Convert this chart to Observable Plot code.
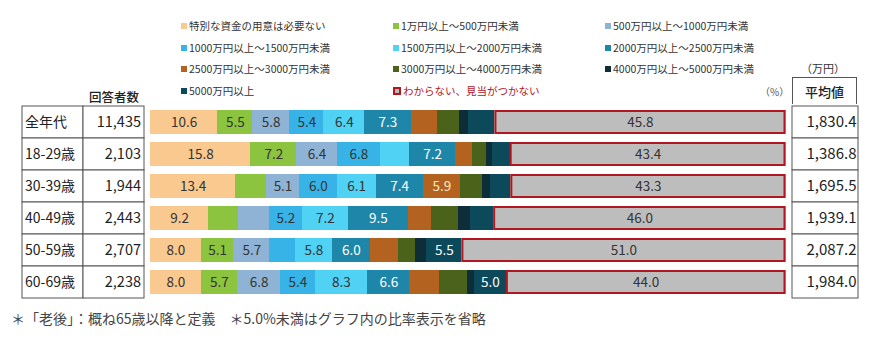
<!DOCTYPE html>
<html><head><meta charset="utf-8">
<script src="https://cdn.jsdelivr.net/npm/d3@7"></script>
<script src="https://cdn.jsdelivr.net/npm/@observablehq/plot@0.6"></script>
<style>
body{margin:0;background:#fff;font-family:"Noto Sans CJK JP","Noto Sans",sans-serif;color:#333;}
#wrap{position:relative;width:870px;height:342px;overflow:hidden;background:#fff;}
.abs{position:absolute;}
.leg{position:absolute;font-size:10.5px;line-height:12px;white-space:nowrap;display:flex;align-items:center;}
.sw{display:inline-block;width:6px;height:6px;margin-right:2px;}
</style></head>
<body><div id="wrap"></div>
<script>
// ---- data ----
const ages = ["全年代","18-29歳","30-39歳","40-49歳","50-59歳","60-69歳"];
const respondents = [11435, 2103, 1944, 2443, 2707, 2238];
const averages = [1830.4, 1386.8, 1695.5, 1939.1, 2087.2, 1984.0];
const categories = ["特別な資金の用意は必要ない","1万円以上～500万円未満","500万円以上～1000万円未満",
  "1000万円以上～1500万円未満","1500万円以上～2000万円未満","2000万円以上～2500万円未満",
  "2500万円以上～3000万円未満","3000万円以上～4000万円未満","4000万円以上～5000万円未満",
  "5000万円以上","わからない、見当がつかない"];
const colors = ["#f9c98f","#8cc43f","#8fb3d5","#37b3e8","#4fd2f3","#1e87a9",
  "#b3621f","#4a6219","#0d2e38","#0c495a","#bdbdbd"];
const labelColors = ["#333","#333","#333","#333","#333","#fff","#fbe8c4","#fff","#fff","#fff","#333"];
const noNeed      = [10.6, 15.8, 13.4, 9.2, 8.0, 8.0];
const v1to500     = [5.5, 7.2, 4.9, 4.7, 5.1, 5.7];
const v500to1000  = [5.8, 6.4, 5.1, 4.8, 5.7, 6.8];
const v1000to1500 = [5.4, 6.8, 6.0, 5.2, 4.0, 5.4];
const v1500to2000 = [6.4, 4.6, 6.1, 7.2, 5.8, 8.3];
const v2000to2500 = [7.3, 7.2, 7.4, 9.5, 6.0, 6.6];
const v2500to3000 = [4.2, 2.6, 5.9, 3.6, 4.4, 4.6];
const v3000to4000 = [3.5, 2.2, 3.4, 4.3, 2.7, 4.5];
const v4000to5000 = [1.4, 1.0, 1.3, 1.8, 1.8, 1.1];
const v5000plus   = [4.1, 2.8, 3.2, 3.7, 5.5, 5.0];
const unknown     = [45.8, 43.4, 43.3, 46.0, 51.0, 44.0];
const series = [noNeed,v1to500,v500to1000,v1000to1500,v1500to2000,v2000to2500,
  v2500to3000,v3000to4000,v4000to5000,v5000plus,unknown];
const footnote = "＊「老後」：概ね65歳以降と定義　＊5.0%未満はグラフ内の比率表示を省略";

// ---- build table ----
const segs = [];
ages.forEach((age, i) => {
  let acc = 0;
  series.forEach((s, k) => {
    const v = s[i];
    segs.push({age, cat: categories[k], k, value: v, x1: acc, x2: acc + v});
    acc += v;
  });
});

const wrap = document.getElementById("wrap");
function place(el, left, top){ const d=document.createElement("div"); d.className="abs"; d.style.left=left+"px"; d.style.top=top+"px"; d.appendChild(el); wrap.appendChild(d); return d; }

const font = '"Noto Sans CJK JP","Noto Sans",sans-serif';

// main bars
const main = Plot.plot({
  width: 640, height: 342,
  marginLeft: 0, marginRight: 4.5, marginTop: 105, marginBottom: 42.6,
  style: {background: "transparent", fontFamily: font},
  x: {domain: [0, 100], axis: null},
  y: {domain: ages, axis: null, paddingInner: 0.26, paddingOuter: 0.13},
  color: {domain: categories, range: colors},
  marks: [
    Plot.barX(segs, {y: "age", x1: "x1", x2: "x2", fill: "cat", inset: 0, shapeRendering: "crispEdges"}),
    Plot.barX(segs.filter(d => d.k === 10), {y: "age", x1: "x1", x2: "x2", fill: "cat", stroke: "#b3161e", strokeWidth: 2, inset: 1}),
    Plot.text(segs.filter(d => d.value >= 5), {y: "age", x: d => (d.x1 + d.x2) / 2,
      text: d => d.value.toFixed(1), fill: d => labelColors[d.k], fontSize: 13.5})
  ]
});
place(main, 150, 0);

// left table
const leftRows = ages.map((a, i) => ({age: a, n: respondents[i]}));
const left = Plot.plot({
  width: 150, height: 342,
  marginLeft: 21, marginRight: 6, marginTop: 103.3, marginBottom: 42,
  style: {background: "transparent", fontFamily: font},
  x: {domain: ["label", "count"], axis: null, padding: 0},
  y: {domain: ages, axis: null, padding: 0},
  marks: [
    Plot.cell(leftRows, {x: () => "label", y: "age", fill: "#fff", stroke: "#555", inset: 0}),
    Plot.cell(leftRows, {x: () => "count", y: "age", fill: "#fff", stroke: "#555", inset: 0}),
    Plot.text(leftRows, {x: () => "label", y: "age", text: "age", textAnchor: "start", dx: -28, fontSize: 14, fill: "#222"}),
    Plot.text(leftRows, {x: () => "count", y: "age", text: d => d3.format(",")(d.n), textAnchor: "end", dx: 27, fontSize: 14.5, fill: "#222"}),
    Plot.text(["回答者数"], {x: () => "count", frameAnchor: "top", dy: -11, fontSize: 12.5, fontWeight: 500, fill: "#222"})
  ]
});
place(left, 0, 0);

// right table
const rightRows = ages.map((a, i) => ({age: a, avg: averages[i]}));
const right = Plot.plot({
  width: 80, height: 342,
  marginLeft: 2, marginRight: 12, marginTop: 104, marginBottom: 42,
  style: {background: "transparent", fontFamily: font},
  x: {domain: ["avg"], axis: null, padding: 0},
  y: {domain: ages, axis: null, padding: 0},
  marks: [
    Plot.cell(rightRows, {x: () => "avg", y: "age", fill: "#fff", stroke: "#555", inset: 0}),
    Plot.text(rightRows, {x: () => "avg", y: "age", text: d => d3.format(",.1f")(d.avg), textAnchor: "end", dx: 31, fontSize: 15, fill: "#222"})
  ]
});
place(right, 790, 0);

// header box of right table
const hb = document.createElement("div");
hb.style.cssText = "width:65px;height:27px;border:1px solid #555;border-bottom:none;box-sizing:border-box;background:#fff;font-size:13px;font-weight:500;display:flex;align-items:center;justify-content:center;color:#222;";
hb.textContent = "平均値";
place(hb, 792, 77);
const unit = document.createElement("div");
unit.style.cssText = "font-size:11px;color:#333;white-space:nowrap;";
unit.textContent = "（万円）";
place(unit, 801, 60);
const pct = document.createElement("div");
pct.style.cssText = "font-size:10px;color:#555;white-space:nowrap;";
pct.textContent = "（%）";
place(pct, 760, 84);

// legend
const colX = [181, 393, 605];
const rowY = [20, 42, 63, 85];
categories.forEach((c, k) => {
  const d = document.createElement("div");
  d.className = "leg";
  d.style.left = colX[k % 3] + "px";
  d.style.top = rowY[Math.floor(k / 3)] + "px";
  const sw = document.createElement("span");
  sw.className = "sw";
  if (k === 10) { sw.style.background = colors[k]; sw.style.border = "2px solid #b3161e"; sw.style.width = "4px"; sw.style.height = "4px"; d.style.color = "#b3161e"; }
  else sw.style.background = colors[k];
  d.appendChild(sw);
  d.appendChild(document.createTextNode(c));
  wrap.appendChild(d);
});

// footnote
const fn = document.createElement("div");
fn.style.cssText = "font-size:14px;color:#444;white-space:nowrap;";
fn.textContent = footnote;
place(fn, 11, 308);
</script></body></html>
